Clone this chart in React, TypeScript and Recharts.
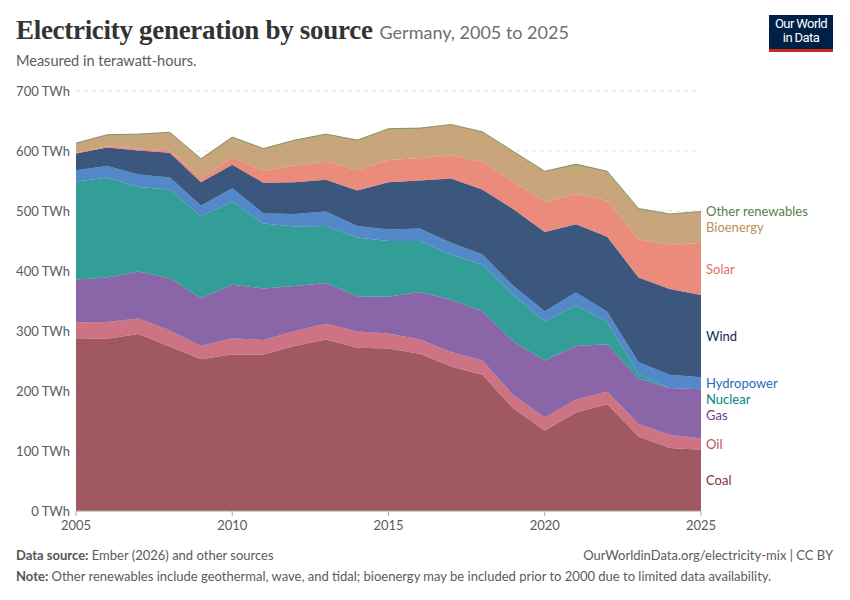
import { AreaChart, Area, XAxis, YAxis, CartesianGrid, ReferenceDot } from 'recharts'

const YEARS = [2005, 2006, 2007, 2008, 2009, 2010, 2011, 2012, 2013, 2014, 2015, 2016, 2017, 2018, 2019, 2020, 2021, 2022, 2023, 2024, 2025]

const COAL = [288, 287, 295, 274, 253, 261, 261, 275, 286, 272, 271, 262, 241, 227, 171, 134, 164, 178, 124, 105, 102]
const OIL = [26, 28, 26, 27, 22, 27, 24, 25, 26, 27, 25, 24, 24, 24, 22, 22, 22, 21, 21, 22, 19]
const GAS = [72, 74, 78, 87, 80, 89, 86, 75, 68, 59, 61, 79, 87, 82, 89, 95, 89, 79, 76, 78, 82]
const NUCLEAR = [163, 167, 141, 148, 136, 139, 108, 99, 95, 98, 93, 85, 75, 78, 78, 65, 68, 37, 7, 0, 0]
const HYDRO = [19, 19, 21, 20, 18, 22, 17, 21, 24, 19, 19, 21, 20, 17, 15, 17, 21, 17, 20, 22, 20]
const WIND = [28, 31, 40, 41, 39, 39, 51, 53, 53, 59, 79, 80, 107, 108, 128, 132, 114, 125, 141, 143, 137]
const SOLAR = [1, 2, 3, 4, 6, 12, 20, 28, 30, 34, 37, 37, 39, 46, 46, 50, 50, 60, 64, 73, 87]
const BIO = [16, 19, 24, 30, 33, 34, 37, 42, 46, 50, 52, 50, 51, 50, 50, 51, 50, 49, 51, 52, 52]
const OTHER = [0.2, 0.2, 0.2, 0.2, 0.2, 0.2, 0.2, 0.2, 0.2, 0.2, 0.2, 0.2, 0.2, 0.2, 0.2, 0.2, 0.2, 0.2, 0.2, 0.2, 0.2]

const Y_TICKS = [0, 100, 200, 300, 400, 500, 600, 700]
const X_TICKS = [2005, 2010, 2015, 2020, 2025]

// bottom to top
const SERIES = [
  { key: 'coal', name: 'Coal', values: COAL, color: '#883039' },
  { key: 'oil', name: 'Oil', values: OIL, color: '#c15065' },
  { key: 'gas', name: 'Gas', values: GAS, color: '#6d3e91' },
  { key: 'nuclear', name: 'Nuclear', values: NUCLEAR, color: '#00847e' },
  { key: 'hydro', name: 'Hydropower', values: HYDRO, color: '#286bbb' },
  { key: 'wind', name: 'Wind', values: WIND, color: '#0b2d5e' },
  { key: 'solar', name: 'Solar', values: SOLAR, color: '#e56e5a' },
  { key: 'bio', name: 'Bioenergy', values: BIO, color: '#bc8e5a' },
  { key: 'other', name: 'Other renewables', values: OTHER, color: '#578145' },
]

const data = YEARS.map((year, i) => {
  const row: Record<string, number> = { year }
  SERIES.forEach(s => { row[s.key] = s.values[i] })
  return row
})

// label positions at the last year: middle of each band, pushed apart from the top down
const last = YEARS.length - 1
let base = 0
const mids = SERIES.map(s => {
  const v = s.values[last]
  const m = base + v / 2
  base += v
  return m
})
const labelY: number[] = new Array(SERIES.length)
let prev = Infinity
for (let i = SERIES.length - 1; i >= 0; i--) {
  labelY[i] = Math.min(mids[i], prev - 27)
  prev = labelY[i]
}

const font = 'Lato, "Noto Sans", sans-serif'
const grey = '#5b5b5b'

export default function App() {
  return (
    <div style={{ position: 'absolute', left: 0, top: 0, width: 850, height: 600, background: '#fff', fontFamily: font }}>
      <AreaChart width={850} height={600} data={data}
        margin={{ top: 91, right: 149, left: 0, bottom: 62 }}
        style={{ position: 'absolute', left: 0, top: 0 }}>
        <CartesianGrid vertical={false} stroke="#dddddd" strokeDasharray="4 4" />
        <XAxis dataKey="year" type="number" domain={[2005, 2025]} ticks={X_TICKS} height={27}
          tick={{ fill: grey, fontSize: 13, fontFamily: font }} tickSize={5} tickMargin={5}
          stroke="#aaa" />
        <YAxis domain={[0, 700]} ticks={Y_TICKS} width={76} axisLine={false} tickLine={false}
          tickSize={0} tickMargin={6} tickFormatter={(v: number) => `${v} TWh`}
          tick={{ fill: grey, fontSize: 13, fontFamily: font }} />
        {SERIES.map(s => (
          <Area key={s.key} dataKey={s.key} name={s.name} stackId="1" type="linear"
            fill={s.color} fillOpacity={0.8}
            stroke={s.key === 'other' ? s.color : 'none'} strokeWidth={1} strokeOpacity={0.7}
            isAnimationActive={false} />
        ))}
        {SERIES.map((s, i) => (
          <ReferenceDot key={'l' + s.key} x={2025} y={labelY[i]} r={0} ifOverflow="visible"
            label={{ value: s.name, position: 'right', offset: 5, fill: s.color, fontSize: 13, fontFamily: font }} />
        ))}
      </AreaChart>

      <div style={{ position: 'absolute', left: 16, top: 15, whiteSpace: 'nowrap' }}>
        <span style={{ fontFamily: '"Liberation Serif", "DejaVu Serif", serif', fontWeight: 700, fontSize: 27, color: '#333', letterSpacing: -0.3 }}>
          Electricity generation by source
        </span>
        <span style={{ fontSize: 18, color: '#6e6e6e', marginLeft: 7 }}>Germany, 2005 to 2025</span>
      </div>
      <div style={{ position: 'absolute', left: 16, top: 52, fontSize: 14.5, color: grey }}>
        Measured in terawatt-hours.
      </div>

      <div style={{ position: 'absolute', left: 769, top: 15, width: 64, height: 37, background: '#002147', color: '#fff', fontSize: 13, lineHeight: '14px', textAlign: 'center', fontFamily: '"Roboto", sans-serif', letterSpacing: -0.6, boxSizing: 'border-box', paddingTop: 2, borderBottom: '3px solid #ce261e' }}>
        Our World<br />in Data
      </div>

      <div style={{ position: 'absolute', left: 16, top: 547, fontSize: 13, color: grey }}>
        <b style={{ color: '#555' }}>Data source:</b> Ember (2026) and other sources
      </div>
      <div style={{ position: 'absolute', right: 17, top: 547, fontSize: 13, color: grey }}>
        OurWorldinData.org/electricity-mix | CC BY
      </div>
      <div style={{ position: 'absolute', left: 16, top: 568, fontSize: 13, color: grey }}>
        <b style={{ color: '#555' }}>Note:</b> Other renewables include geothermal, wave, and tidal; bioenergy may be included prior to 2000 due to limited data availability.
      </div>
    </div>
  )
}
